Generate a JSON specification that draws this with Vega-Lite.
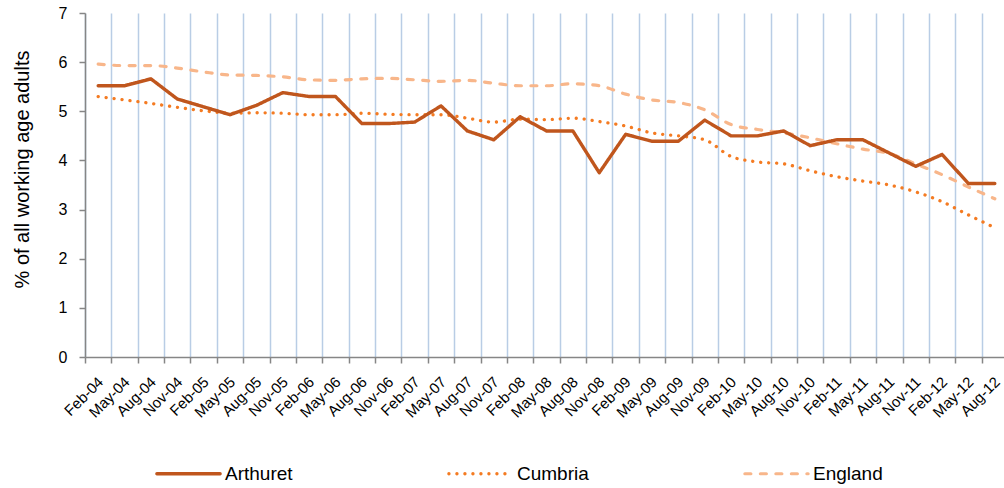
{
  "$schema": "https://vega.github.io/schema/vega-lite/v6.json",
  "width": 919,
  "height": 344,
  "autosize": "none",
  "padding": {"left": 85, "top": 13, "right": 0, "bottom": 131},
  "config": {"view": {"stroke": null}, "font": "Liberation Sans"},
  "data": {"values": [
    {"q":"Feb-04","s":"Arthuret","v":5.52},{"q":"May-04","s":"Arthuret","v":5.52},{"q":"Aug-04","s":"Arthuret","v":5.66},{"q":"Nov-04","s":"Arthuret","v":5.25},
    {"q":"Feb-05","s":"Arthuret","v":5.09},{"q":"May-05","s":"Arthuret","v":4.93},{"q":"Aug-05","s":"Arthuret","v":5.12},{"q":"Nov-05","s":"Arthuret","v":5.38},
    {"q":"Feb-06","s":"Arthuret","v":5.30},{"q":"May-06","s":"Arthuret","v":5.30},{"q":"Aug-06","s":"Arthuret","v":4.75},{"q":"Nov-06","s":"Arthuret","v":4.75},
    {"q":"Feb-07","s":"Arthuret","v":4.78},{"q":"May-07","s":"Arthuret","v":5.11},{"q":"Aug-07","s":"Arthuret","v":4.60},{"q":"Nov-07","s":"Arthuret","v":4.42},
    {"q":"Feb-08","s":"Arthuret","v":4.89},{"q":"May-08","s":"Arthuret","v":4.60},{"q":"Aug-08","s":"Arthuret","v":4.60},{"q":"Nov-08","s":"Arthuret","v":3.75},
    {"q":"Feb-09","s":"Arthuret","v":4.53},{"q":"May-09","s":"Arthuret","v":4.39},{"q":"Aug-09","s":"Arthuret","v":4.39},{"q":"Nov-09","s":"Arthuret","v":4.82},
    {"q":"Feb-10","s":"Arthuret","v":4.50},{"q":"May-10","s":"Arthuret","v":4.50},{"q":"Aug-10","s":"Arthuret","v":4.60},{"q":"Nov-10","s":"Arthuret","v":4.30},
    {"q":"Feb-11","s":"Arthuret","v":4.42},{"q":"May-11","s":"Arthuret","v":4.42},{"q":"Aug-11","s":"Arthuret","v":4.15},{"q":"Nov-11","s":"Arthuret","v":3.88},
    {"q":"Feb-12","s":"Arthuret","v":4.12},{"q":"May-12","s":"Arthuret","v":3.53},{"q":"Aug-12","s":"Arthuret","v":3.53},
    {"q":"Feb-04","s":"Cumbria","v":5.30},{"q":"May-04","s":"Cumbria","v":5.23},{"q":"Aug-04","s":"Cumbria","v":5.16},{"q":"Nov-04","s":"Cumbria","v":5.08},
    {"q":"Feb-05","s":"Cumbria","v":5.01},{"q":"May-05","s":"Cumbria","v":4.96},{"q":"Aug-05","s":"Cumbria","v":4.97},{"q":"Nov-05","s":"Cumbria","v":4.96},
    {"q":"Feb-06","s":"Cumbria","v":4.93},{"q":"May-06","s":"Cumbria","v":4.93},{"q":"Aug-06","s":"Cumbria","v":4.96},{"q":"Nov-06","s":"Cumbria","v":4.94},
    {"q":"Feb-07","s":"Cumbria","v":4.93},{"q":"May-07","s":"Cumbria","v":4.93},{"q":"Aug-07","s":"Cumbria","v":4.86},{"q":"Nov-07","s":"Cumbria","v":4.78},
    {"q":"Feb-08","s":"Cumbria","v":4.84},{"q":"May-08","s":"Cumbria","v":4.83},{"q":"Aug-08","s":"Cumbria","v":4.86},{"q":"Nov-08","s":"Cumbria","v":4.79},
    {"q":"Feb-09","s":"Cumbria","v":4.70},{"q":"May-09","s":"Cumbria","v":4.56},{"q":"Aug-09","s":"Cumbria","v":4.50},{"q":"Nov-09","s":"Cumbria","v":4.42},
    {"q":"Feb-10","s":"Cumbria","v":4.08},{"q":"May-10","s":"Cumbria","v":3.97},{"q":"Aug-10","s":"Cumbria","v":3.93},{"q":"Nov-10","s":"Cumbria","v":3.79},
    {"q":"Feb-11","s":"Cumbria","v":3.67},{"q":"May-11","s":"Cumbria","v":3.58},{"q":"Aug-11","s":"Cumbria","v":3.50},{"q":"Nov-11","s":"Cumbria","v":3.36},
    {"q":"Feb-12","s":"Cumbria","v":3.16},{"q":"May-12","s":"Cumbria","v":2.89},{"q":"Aug-12","s":"Cumbria","v":2.63},
    {"q":"Feb-04","s":"England","v":5.96},{"q":"May-04","s":"England","v":5.93},{"q":"Aug-04","s":"England","v":5.93},{"q":"Nov-04","s":"England","v":5.88},
    {"q":"Feb-05","s":"England","v":5.80},{"q":"May-05","s":"England","v":5.74},{"q":"Aug-05","s":"England","v":5.73},{"q":"Nov-05","s":"England","v":5.70},
    {"q":"Feb-06","s":"England","v":5.64},{"q":"May-06","s":"England","v":5.63},{"q":"Aug-06","s":"England","v":5.66},{"q":"Nov-06","s":"England","v":5.67},
    {"q":"Feb-07","s":"England","v":5.64},{"q":"May-07","s":"England","v":5.61},{"q":"Aug-07","s":"England","v":5.63},{"q":"Nov-07","s":"England","v":5.57},
    {"q":"Feb-08","s":"England","v":5.52},{"q":"May-08","s":"England","v":5.52},{"q":"Aug-08","s":"England","v":5.56},{"q":"Nov-08","s":"England","v":5.52},
    {"q":"Feb-09","s":"England","v":5.35},{"q":"May-09","s":"England","v":5.23},{"q":"Aug-09","s":"England","v":5.18},{"q":"Nov-09","s":"England","v":5.03},
    {"q":"Feb-10","s":"England","v":4.73},{"q":"May-10","s":"England","v":4.63},{"q":"Aug-10","s":"England","v":4.56},{"q":"Nov-10","s":"England","v":4.46},
    {"q":"Feb-11","s":"England","v":4.34},{"q":"May-11","s":"England","v":4.23},{"q":"Aug-11","s":"England","v":4.14},{"q":"Nov-11","s":"England","v":3.93},
    {"q":"Feb-12","s":"England","v":3.71},{"q":"May-12","s":"England","v":3.46},{"q":"Aug-12","s":"England","v":3.22}
  ]},
  "encoding": {
    "x": {
      "field": "q", "type": "ordinal", "sort": null,
      "scale": {"type": "band", "paddingInner": 0, "paddingOuter": 0, "range": [0, 923]},
      "axis": {
        "title": null, "tickBand": "extent", "grid": true, "gridColor": "#B9CDE5", "gridWidth": 1.5,
        "domainColor": "#868686", "domainWidth": 1.5, "tickColor": "#868686", "tickWidth": 1.5, "tickSize": 6,
        "labelAngle": -45, "labelAlign": "right", "labelBaseline": "middle", "labelPadding": 16, "labelOffset": 2,
        "labelFontSize": 15, "labelColor": "#000000", "labelOverlap": false
      }
    },
    "y": {
      "field": "v", "type": "quantitative",
      "scale": {"domain": [0, 7], "nice": false},
      "axis": {
        "values": [0, 1, 2, 3, 4, 5, 6, 7], "grid": false,
        "title": "% of all working age adults", "titleFontSize": 20, "titleFontWeight": "normal", "titleColor": "#000000",
        "titleX": -57, "titleY": 156, "titleAngle": 270, "titleAlign": "center", "titleBaseline": "alphabetic",
        "domainColor": "#868686", "domainWidth": 1.5, "tickColor": "#868686", "tickWidth": 1.5, "tickSize": 6,
        "labelFontSize": 16, "labelColor": "#000000", "labelPadding": 12
      }
    },
    "color": {
      "field": "s", "type": "nominal",
      "scale": {"domain": ["Arthuret", "Cumbria", "England"], "range": ["#C0561D", "#F47B22", "#F8B68A"]},
      "legend": {
        "title": null, "orient": "none", "legendX": 70, "legendY": 427, "direction": "horizontal",
        "symbolType": "stroke", "symbolSize": 4000, "labelFontSize": 19, "labelColor": "#000000",
        "labelOffset": 3, "columnPadding": 149, "padding": 0,
        "encode": {"symbols": {"update": {"strokeCap": {"value": "round"}}}}
      }
    },
    "strokeDash": {
      "field": "s", "type": "nominal",
      "scale": {"domain": ["Arthuret", "Cumbria", "England"], "range": [[1, 0], [0.1, 7.9], [6, 9.5]]}
    },
    "strokeWidth": {
      "field": "s", "type": "ordinal",
      "scale": {"domain": ["Arthuret", "Cumbria", "England"], "range": [3.4, 3.2, 4.4]}
    }
  },
  "layer": [
    {
      "transform": [{"filter": "datum.s !== 'Arthuret'"}],
      "mark": {"type": "line", "interpolate": "monotone", "strokeCap": "round", "clip": false}
    },
    {
      "transform": [{"filter": "datum.s === 'Arthuret'"}],
      "mark": {"type": "line", "strokeCap": "round", "strokeJoin": "round", "clip": false}
    }
  ]
}
